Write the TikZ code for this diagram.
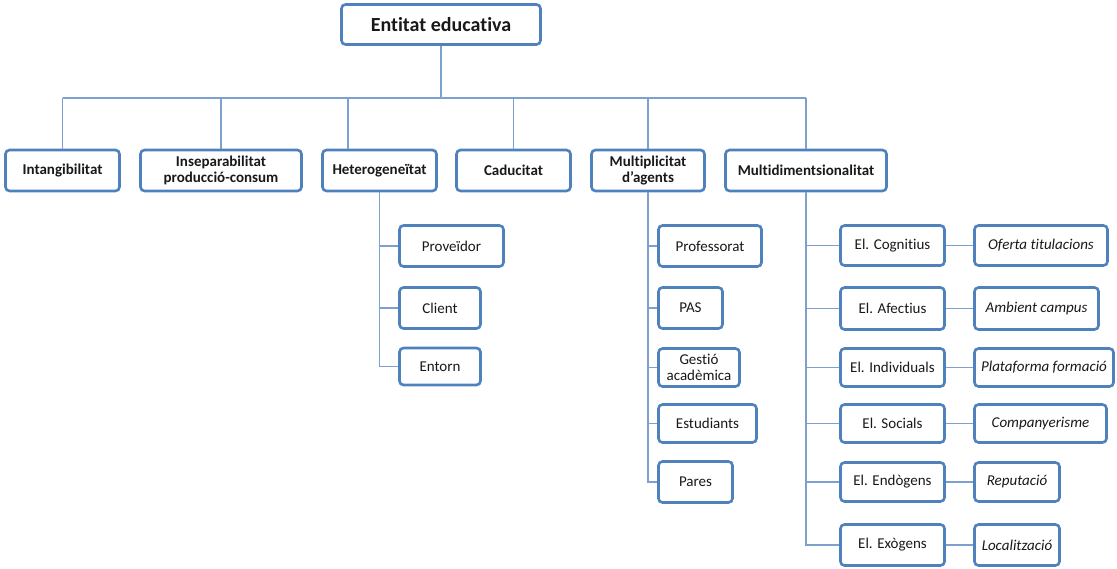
\documentclass[tikz,border=0pt]{standalone}
\usepackage{fontspec}
\setmainfont{Carlito}[Ligatures=NoCommon]
\definecolor{boxblue}{HTML}{4F81BD}
\definecolor{linkblue}{HTML}{7EA0CE}
\begin{document}
\begin{tikzpicture}[x=1pt,y=-1pt,
  box/.style={draw=boxblue,line width=2.6pt,rounded corners=4pt,fill=white,
    inner sep=0pt,align=center,font=\fontsize{15}{16}\selectfont,text=black!90},
  boldbox/.style={box,font=\fontsize{15}{16}\selectfont\bfseries},
  itbox/.style={box,font=\fontsize{15}{16}\selectfont\itshape},
  link/.style={draw=linkblue,line width=1.3pt}]
\useasboundingbox (0,0) rectangle (1117,569);
% connectors first (under boxes)
\coordinate (bus) at (441,98);
\coordinate (hetdrop) at (348,98);
\coordinate (rootc) at (441,24.5);
\coordinate (intc) at (62.5,170.5);
\coordinate (multidc) at (806,170.5);
% root
\node[box,font=\fontsize{20}{22}\selectfont\bfseries,minimum width=199,minimum height=40] (root) at (441,24.5) {Entitat educativa};
% level 1
\node[boldbox,minimum width=114,minimum height=41] (intang) at (62.5,170.5) {Intangibilitat};
\node[boldbox,minimum width=161,minimum height=41] (insep) at (221,170.5) {Inseparabilitat\\producció-consum};
\node[boldbox,minimum width=114,minimum height=41] (het) at (379.5,170.5) {Heterogeneïtat};
\node[boldbox,minimum width=114,minimum height=41] (cad) at (513.5,170.5) {Caducitat};
\node[boldbox,minimum width=113,minimum height=41] (mult) at (648,170.5) {Multiplicitat\\d’agents};
\node[boldbox,minimum width=161,minimum height=41] (multid) at (806,170.5) {Multidimentsionalitat};
% heterogeneitat children
\node[box,minimum width=104,minimum height=41] (prov) at (451.5,246) {Proveïdor};
\node[box,minimum width=81,minimum height=41] (client) at (440,308) {Client};
\node[box,minimum width=81,minimum height=37] (entorn) at (440,366.5) {Entorn};
% multiplicitat children
\node[box,minimum width=103,minimum height=41] (prof) at (710,246) {Professorat};
\node[box,minimum width=64,minimum height=41] (pas) at (690.5,308) {PAS};
\node[box,minimum width=81,minimum height=38] (gest) at (699,367.5) {Gestió\\acadèmica};
\node[box,minimum width=98,minimum height=38] (estud) at (707.5,423.5) {Estudiants};
\node[box,minimum width=74,minimum height=41] (pares) at (695.5,482) {Pares};
% multidimensionalitat children
\node[box,minimum width=104,minimum height=40] (cog) at (892.5,245.5) {El. Cognitius};
\node[box,minimum width=104,minimum height=42] (afec) at (892.5,308.5) {El. Afectius};
\node[box,minimum width=104,minimum height=38] (indiv) at (892.5,367.5) {El. Individuals};
\node[box,minimum width=104,minimum height=38] (soc) at (892.5,423.5) {El. Socials};
\node[box,minimum width=104,minimum height=39] (endo) at (892.5,482) {El. Endògens};
\node[box,minimum width=104,minimum height=41] (exo) at (892.5,545) {El. Exògens};
\node[itbox,minimum width=133,minimum height=40] (ofer) at (1041,245.5) {Oferta titulacions};
\node[itbox,minimum width=124,minimum height=42] (amb) at (1036.5,308.5) {Ambient campus};
\node[itbox,minimum width=139,minimum height=38] (plat) at (1044,367.5) {Plataforma formació};
\node[itbox,minimum width=132,minimum height=38] (comp) at (1040.5,423.5) {Companyerisme};
\node[itbox,minimum width=85,minimum height=39] (rep) at (1017,482) {Reputació};
\node[itbox,minimum width=85,minimum height=41] (loc) at (1017,545) {Localització};
% connectors
\path[link] (root.south) -- (bus);
\path[link] (bus -| intang.north) -- (bus -| multid.north);
\path[link] (bus -| intang.north) -- (intang.north);
\path[link] (bus -| insep.north) -- (insep.north);
\path[link] (hetdrop) -- (hetdrop |- het.north);
\path[link] (bus -| cad.north) -- (cad.north);
\path[link] (bus -| mult.north) -- (mult.north);
\path[link] (bus -| multid.north) -- (multid.north);
% het
\path[link] (het.south) -- (het.south |- entorn.west) -- (entorn.west);
\path[link] (het.south |- prov.west) -- (prov.west);
\path[link] (het.south |- client.west) -- (client.west);
% mult
\path[link] (mult.south) -- (mult.south |- pares.west) -- (pares.west);
\path[link] (mult.south |- prof.west) -- (prof.west);
\path[link] (mult.south |- pas.west) -- (pas.west);
\path[link] (mult.south |- gest.west) -- (gest.west);
\path[link] (mult.south |- estud.west) -- (estud.west);
% multid
\path[link] (multid.south) -- (multid.south |- exo.west) -- (exo.west);
\path[link] (multid.south |- cog.west) -- (cog.west);
\path[link] (multid.south |- afec.west) -- (afec.west);
\path[link] (multid.south |- indiv.west) -- (indiv.west);
\path[link] (multid.south |- soc.west) -- (soc.west);
\path[link] (multid.south |- endo.west) -- (endo.west);
\path[link] (cog.east) -- (ofer.west);
\path[link] (afec.east) -- (amb.west);
\path[link] (indiv.east) -- (plat.west);
\path[link] (soc.east) -- (comp.west);
\path[link] (endo.east) -- (rep.west);
\path[link] (exo.east) -- (loc.west);
\end{tikzpicture}
\end{document}
